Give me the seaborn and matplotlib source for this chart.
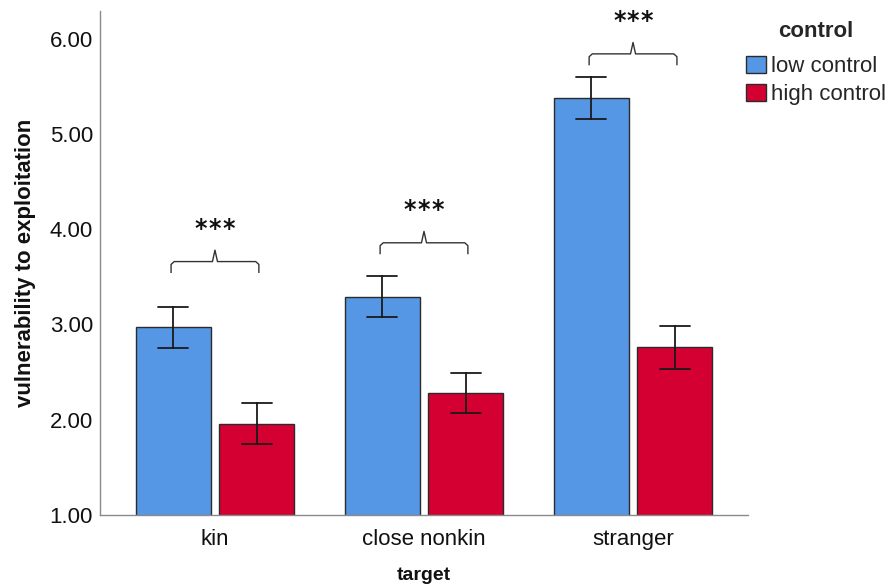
import numpy as np
import pandas as pd
import matplotlib
matplotlib.use("Agg")
import matplotlib.pyplot as plt
import seaborn as sns

# ---- data ----
targets = ["kin", "close nonkin", "stranger"]
controls = ["low control", "high control"]
low_means = [2.97, 3.29, 5.38]
high_means = [1.96, 2.285, 2.76]
low_err = [0.215, 0.215, 0.22]
high_err = [0.22, 0.21, 0.225]
yticks = [1.0, 2.0, 3.0, 4.0, 5.0, 6.0]
sig_labels = ["***", "***", "***"]
bracket_y = [3.66, 3.857, 5.84]

# long table: each bar given by its lower/upper error bound, mean = centre
rows = []
for t, m, e in zip(targets, low_means, low_err):
    rows += [(t, controls[0], m - e), (t, controls[0], m + e)]
for t, m, e in zip(targets, high_means, high_err):
    rows += [(t, controls[1], m - e), (t, controls[1], m + e)]
df = pd.DataFrame(rows, columns=["target", "control", "value"])

sns.set_theme(style="white")
plt.rcParams["font.family"] = ["Liberation Sans", "DejaVu Sans"]

fig = plt.figure(figsize=(8.87, 5.85), dpi=100)
ax = fig.add_axes([100 / 887, 1 - 515 / 585, 648 / 887, 504 / 585])

blue = "#5596E5"
red = "#D50032"
sns.barplot(data=df, x="target", y="value", hue="control", order=targets,
            hue_order=controls, estimator="mean", errorbar=("pi", 100),
            capsize=0.29, err_kws={"color": "#1a1a1a", "linewidth": 1.3},
            palette=[blue, red], saturation=1, edgecolor="#2b2b2b",
            linewidth=1.0, width=0.8, gap=0.1, ax=ax)

ax.set_ylim(1.0, 6.29)
ax.set_xlim(-0.55, 2.55)
ax.set_yticks(yticks)
ax.set_yticklabels([f"{v:.2f}" for v in yticks], fontsize=16)
ax.tick_params(axis="x", labelsize=16, length=0, pad=10, colors="#111111")
ax.tick_params(axis="y", length=0, pad=5, colors="#111111")
for s in ["top", "right"]:
    ax.spines[s].set_visible(False)
for s in ["left", "bottom"]:
    ax.spines[s].set_color("#8a8a8a")
    ax.spines[s].set_linewidth(1.0)

ax.set_ylabel("vulnerability to exploitation", fontsize=16, fontweight="bold",
              labelpad=10, color="#111111")
ax.set_xlabel("target", fontsize=14, fontweight="bold", labelpad=12,
              color="#111111")

# significance brackets
hw = 0.21
d = 0.12
star_dx = 0.066
for i, (by, lab) in enumerate(zip(bracket_y, sig_labels)):
    xs = [i - hw, i - hw, i - hw + 0.015, i - 0.012, i, i + 0.012,
          i + hw - 0.015, i + hw, i + hw]
    ys = [by - d, by - 0.03, by, by, by + d, by, by, by - 0.03, by - d]
    ax.plot(xs, ys, color="#333333", linewidth=1.0, solid_capstyle="butt")
    n = len(lab)
    for k, ch in enumerate(lab):
        ax.text(i + (k - (n - 1) / 2) * star_dx, by + 0.27, ch, ha="center",
                va="baseline", fontsize=17, fontweight="bold",
                color="#111111", family="DejaVu Sans")

leg = ax.legend(title="control", loc="upper left",
                bbox_to_anchor=(646 / 648, 1.0 - 10 / 504), frameon=False,
                fontsize=16, title_fontproperties={"weight": "bold", "size": 16},
                handlelength=0.92, handleheight=0.8, handletextpad=0.22,
                labelspacing=0.3, borderaxespad=0.0, borderpad=0.0)
leg._legend_box.sep = 10
for h in leg.legend_handles:
    h.set_edgecolor("#2b2b2b")
    h.set_linewidth(1.0)

fig.savefig("out.png", dpi=100)
